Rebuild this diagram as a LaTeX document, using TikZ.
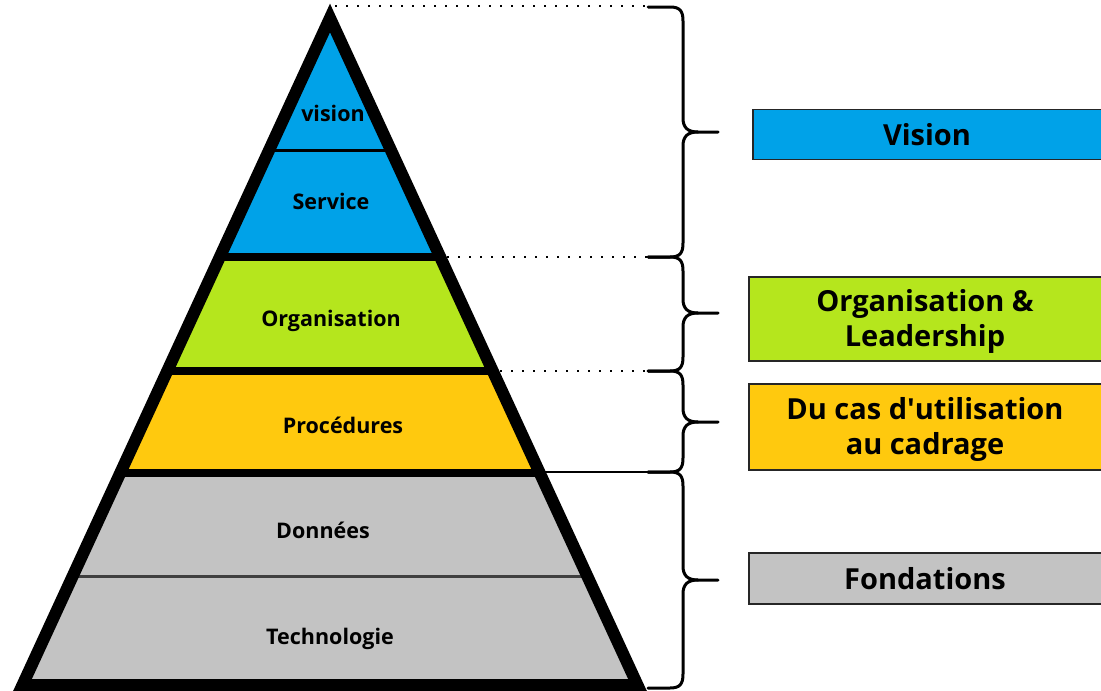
\documentclass[tikz,border=0pt]{standalone}
\usepackage{fontspec}
\setmainfont{Open Sans}
\definecolor{pblue}{RGB}{0,162,232}
\definecolor{pgreen}{RGB}{181,230,29}
\definecolor{pyellow}{RGB}{255,201,14}
\definecolor{pgray}{RGB}{195,195,195}
\tikzset{
  lvl/.style={font=\bfseries\fontsize{21.5}{24}\selectfont, text=black},
  boxshape/.style={draw=black!85, line width=1.5pt, inner sep=0pt, anchor=west},
  boxtext/.style={font=\bfseries\fontsize{29}{35}\selectfont, align=center},
  dots/.style={line width=2pt, dash pattern=on 2pt off 9pt},
  bracestyle/.style={line width=3pt, line cap=round, line join=round},
}
\newcommand\mybrace[3]{%
  \draw[bracestyle] (648,#1) -- (670,#1) .. controls (680,#1) and (683,{#1+4}) .. (683,{#1+14}) -- (683,{#3-14}) .. controls (683,{#3-4}) and (688,#3) .. (698,#3) -- (718,#3);
  \draw[bracestyle] (698,#3) .. controls (688,#3) and (683,{#3+4}) .. (683,{#3+14}) -- (683,{#2-14}) .. controls (683,{#2-4}) and (680,#2) .. (670,#2) -- (648,#2);
}
\begin{document}
\begin{tikzpicture}[x=1pt,y=-1pt]
\useasboundingbox (0,0) rectangle (1101,691);
\clip (0,0) rectangle (1101,691);
\coordinate (A) at (330,18);
\coordinate (L) at (22.5,685);
\coordinate (R) at (637.5,685);
% bands
\begin{scope}
  \clip (A) -- (L) -- (R) -- cycle;
  \fill[pblue] (0,0) rectangle (700,257);
  \fill[pgreen] (0,257) rectangle (700,371);
  \fill[pyellow] (0,371) rectangle (700,473);
  \fill[pgray] (0,473) rectangle (700,691);
  \draw[line width=3pt] (0,150) -- (700,150);
  \draw[line width=7.5pt] (0,257) -- (700,257);
  \draw[line width=7.5pt] (0,371) -- (700,371);
  \draw[line width=7.5pt] (0,473) -- (700,473);
  \draw[line width=3pt, black!75] (0,576) -- (700,576);
\end{scope}
\draw[line width=12pt, line join=miter] (A) -- (L) -- (R) -- cycle;
% level labels
\node[lvl] (nvision) at (333,113) {vision};
\node[lvl] (nservice) at (331,201) {Service};
\node[lvl] (norg) at (331,321) {Organisation};
\node[lvl] (nproc) at (343,425) {Procédures};
\node[lvl] (ndon) at (323,530) {Données};
\node[lvl] (ntech) at (330,639) {Technologie};
% guide lines
\coordinate (g1a) at (335,6);   \coordinate (g1b) at (648,6);
\coordinate (g2a) at (447,257); \coordinate (g2b) at (648,257);
\coordinate (g3a) at (500,371); \coordinate (g3b) at (648,371);
\coordinate (g4a) at (545,472); \coordinate (g4b) at (648,472);
\draw[dots] (g1a) -- (g1b);
\draw[dots] (g2a) -- (g2b);
\draw[dots] (g3a) -- (g3b);
\draw[line width=1.5pt] (g4a) -- (g4b);
% braces
\mybrace{7}{257}{132}
\mybrace{257}{371}{313}
\mybrace{371}{472}{422}
\mybrace{472}{688}{580}
% right boxes
\node[boxshape, fill=pblue, minimum width=360pt, minimum height=50pt] (bvision) at (752,134.5) {};
\node[boxtext] (tvision) at (927,135) {Vision};
\node[boxshape, fill=pgreen, minimum width=360pt, minimum height=84pt] (borg) at (748,319) {};
\node[boxtext] (torg) at (925,321) {Organisation \&\\Leadership};
\node[boxshape, fill=pyellow, minimum width=360pt, minimum height=86pt] (bcas) at (748,427) {};
\node[boxtext] (tcas) at (925,429) {Du cas d\textquotesingle utilisation\\au cadrage};
\node[boxshape, fill=pgray, minimum width=360pt, minimum height=51pt] (bfond) at (748,578.5) {};
\node[boxtext] (tfond) at (925,579) {Fondations};
\end{tikzpicture}
\end{document}
